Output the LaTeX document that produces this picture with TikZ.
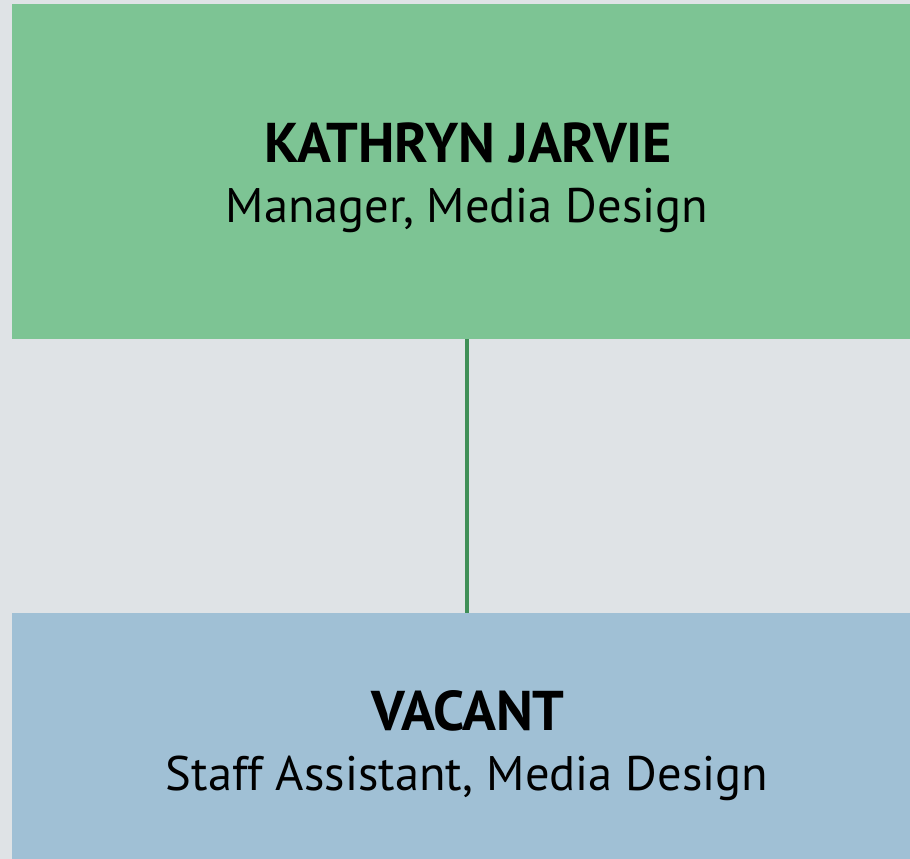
\documentclass[tikz,border=0pt]{standalone}
\usepackage{fontspec}
\setmainfont{PT Sans}
\definecolor{bggrey}{RGB}{223,227,230}
\definecolor{boxgreen}{RGB}{125,196,148}
\definecolor{boxblue}{RGB}{160,192,213}
\definecolor{linegreen}{RGB}{63,143,87}
\tikzset{
  box/.style={rectangle, inner sep=0pt, draw=none},
  nametext/.style={inner sep=0pt, font=\fontsize{56}{56}\selectfont\bfseries, anchor=base},
  roletext/.style={inner sep=0pt, font=\fontsize{48.5}{48.5}\selectfont, anchor=base},
}
\begin{document}
\begin{tikzpicture}[x=1pt,y=-1pt]
\fill[bggrey] (0,0) rectangle (910,859);
\useasboundingbox (0,0) rectangle (910,859);
\node[box, fill=boxgreen, minimum width=910pt, minimum height=335.5pt, anchor=north west] (mgr) at (12,3.5) {};
\node[box, fill=boxblue, minimum width=910pt, minimum height=260pt, anchor=north west] (staff) at (12,613) {};
\node[nametext] (mgrname) at (468,162) {KATHRYN JARVIE};
\node[roletext] (mgrrole) at (467,222) {Manager, Media Design};
\node[nametext] (staffname) at (468,730) {VACANT};
\node[roletext] (staffrole) at (467,790) {Staff Assistant, Media Design};
\draw[linegreen, line width=3.2pt] (mgr.south -| mgrrole.base) -- (staff.north -| mgrrole.base);
\end{tikzpicture}
\end{document}
